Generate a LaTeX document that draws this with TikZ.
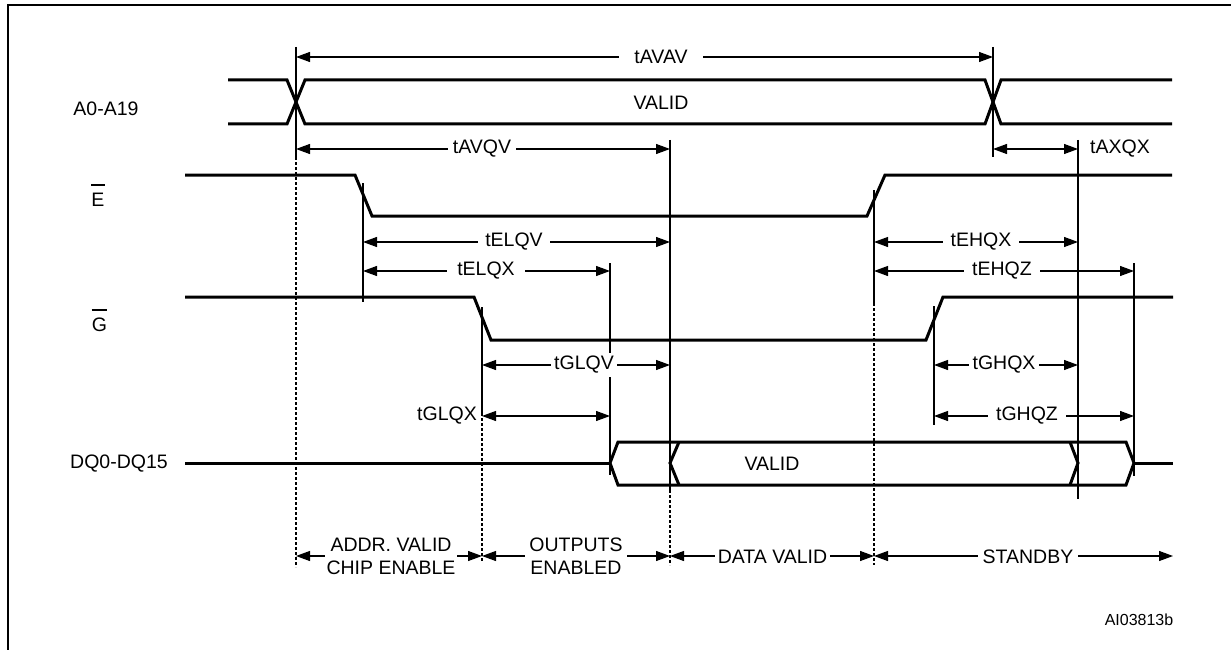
\documentclass[tikz,border=0pt]{standalone}
\usepackage{fontspec}
\setmainfont{Liberation Sans}
\usetikzlibrary{arrows.meta,calc}
\begin{document}
\begin{tikzpicture}[x=1pt,y=-1pt,
  frame/.style={line width=2.4pt},
  sig/.style={line width=3pt, line join=miter},
  thinv/.style={line width=1.2pt},
  dotv/.style={line width=1.2pt, dash pattern=on 2.5pt off 2.5pt},
  dimline/.style={line width=1.1pt, {Triangle[length=14pt,width=10pt]}-{Triangle[length=14pt,width=10pt]}},
  lbl/.style={font=\fontsize{19.5}{23}\selectfont, inner sep=0pt},
  gaplbl/.style={lbl, fill=white, inner ysep=3pt},
  barline/.style={line width=1.5pt}
]
\useasboundingbox (0,0) rectangle (1231,650);
% frame
\draw[frame] (8,652) -- (8,5) -- (1233,5);

% column and row coordinates
\foreach \n/\x in {a/296,b/993,c/363,d/670,e/610,f/482,g/874,h/934,i/1078,j/1134,k/1173}
  \coordinate (x\n) at (\x,0);
\foreach \n/\y in {1/57,2/149,3/242,4/271,5/365,6/416,7/556}
  \coordinate (r\n) at (0,\y);

% signal names
\node[lbl] (lA) at (106,109) {A0-A19};
\node[lbl] (lE) at (98,200) {E};
\draw[barline] ($(lE.north west)+(0,-8)$) -- ($(lE.north east)+(0,-8)$);
\node[lbl] (lG) at (99.5,325) {G};
\draw[barline] ($(lG.north west)+(0,-8)$) -- ($(lG.north east)+(0,-8)$);
\node[lbl] (lDQ) at (119,464) {DQ0-DQ15};

% waveforms
\draw[sig] (228,80) -- (287,80) -- (305,124) -- (985,124) -- (1001,80) -- (1172,80);
\draw[sig] (228,124) -- (287,124) -- (305,80) -- (985,80) -- (1001,124) -- (1172,124);
\node[lbl] (vA) at (661,103) {VALID};

\draw[sig] (185,175) -- (355,175) -- (372,216) -- (867,216) -- (885,175) -- (1172,175);
\draw[sig] (185,297) -- (474,297) -- (491,340) -- (926,340) -- (943,297) -- (1173,297);

\draw[sig] (185,463) -- (610,463);
\draw[sig] (610,463) -- (618,442) -- (1126,442) -- (1134,463) -- (1126,485) -- (618,485) -- cycle;
\draw[sig] (679,442) -- (670,463) -- (679,485);
\draw[sig] (1070,442) -- (1078,463) -- (1070,485);
\draw[sig] (1134,463) -- (1173,463);
\node[lbl] (vDQ) at (772,464) {VALID};

% timing reference lines
\draw[thinv] (296,47) -- (296,157); \draw[dotv] (296,157) -- (296,567);
\draw[thinv] (993,47) -- (993,157);
\draw[thinv] (670,140) -- (670,490); \draw[dotv] (670,490) -- (670,565);
\draw[thinv] (1078,140) -- (1078,499);
\draw[thinv] (363,183) -- (363,302);
\draw[thinv] (610,263) -- (610,475);
\draw[thinv] (874,190) -- (874,303); \draw[dotv] (874,303) -- (874,565);
\draw[thinv] (1134,263) -- (1134,476);
\draw[thinv] (482,307) -- (482,413); \draw[dotv] (482,413) -- (482,562);
\draw[thinv] (934,306) -- (934,425);

% dimension arrows
\draw[dimline] (xa|-r1) -- (xb|-r1);
\draw[dimline] (xa|-r2) -- (xd|-r2);
\draw[dimline] (xb|-r2) -- (xi|-r2);
\draw[dimline] (xc|-r3) -- (xd|-r3);
\draw[dimline] (xc|-r4) -- (xe|-r4);
\draw[dimline] (xg|-r3) -- (xi|-r3);
\draw[dimline] (xg|-r4) -- (xj|-r4);
\draw[dimline] (xf|-r5) -- (xd|-r5);
\draw[dimline] (xf|-r6) -- (xe|-r6);
\draw[dimline] (xh|-r5) -- (xi|-r5);
\draw[dimline] (xh|-r6) -- (xj|-r6);
\draw[dimline] (xa|-r7) -- (xf|-r7);
\draw[dimline] (xf|-r7) -- (xd|-r7);
\draw[dimline] (xd|-r7) -- (xg|-r7);
\draw[dimline] (xg|-r7) -- (xk|-r7);

% timing labels
\node[gaplbl, inner xsep=15pt] (tAVAV) at (661,57) {tAVAV};
\node[gaplbl, inner xsep=5pt] (tAVQV) at (482,149) {tAVQV};
\node[lbl] (tAXQX) at (1120,149) {tAXQX};
\node[gaplbl, inner xsep=7pt] (tELQV) at (514,242) {tELQV};
\node[gaplbl, inner xsep=10pt] (tELQX) at (486,271) {tELQX};
\node[gaplbl, inner xsep=3pt] (tGLQV) at (584,365) {tGLQV};
\node[lbl] (tGLQX) at (447,416) {tGLQX};
\node[gaplbl, inner xsep=8pt] (tEHQX) at (981,242) {tEHQX};
\node[gaplbl, inner xsep=8pt] (tEHQZ) at (1002,271) {tEHQZ};
\node[gaplbl, inner xsep=4pt] (tGHQX) at (1004,365) {tGHQX};
\node[gaplbl, inner xsep=8pt] (tGHQZ) at (1027,416) {tGHQZ};

% phase labels
\node[gaplbl, align=center, inner xsep=2pt] (pAddr) at (391,556) {ADDR. VALID\\CHIP ENABLE};
\node[gaplbl, align=center, inner xsep=4pt] (pOut) at (576,556) {OUTPUTS\\ENABLED};
\node[gaplbl, inner xsep=3pt] (pData) at (772.5,557) {DATA VALID};
\node[gaplbl, inner xsep=5pt] (pStby) at (1028,557) {STANDBY};

\node[font=\fontsize{16}{19}\selectfont, inner sep=0pt] (ref) at (1139,620) {AI03813b};
\end{tikzpicture}
\end{document}
